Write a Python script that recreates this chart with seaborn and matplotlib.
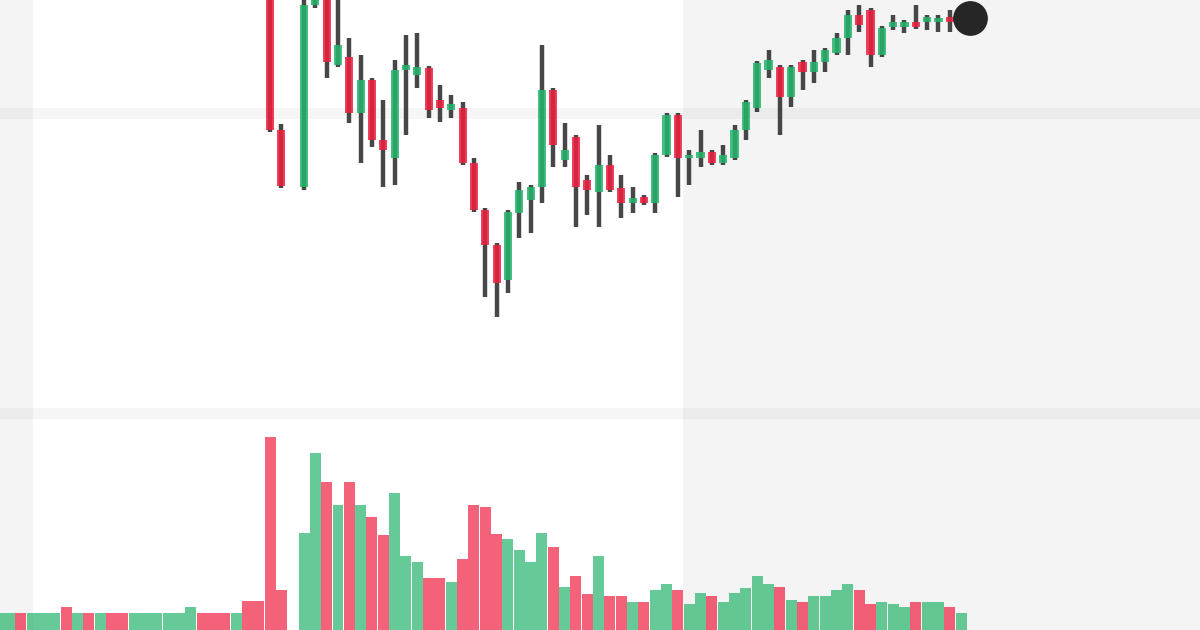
import matplotlib
matplotlib.use("Agg")
import matplotlib.pyplot as plt
import numpy as np
import pandas as pd
import seaborn as sns

# ---- data (bar index, one slot is missing: no trading in slot 26) ----
day = list(range(0, 26)) + list(range(27, 86))

open_ = [455, 460, 463, 458, 462, 466, 468, 461, 465, 462, 464, 460, 457, 460, 462, 465, 467, 468, 472, 468, 465, 462, 464, 455,
         445, 280,
         223, 405, 425, 345, 353, 297, 330, 270, 252, 340, 335, 342, 310, 300, 302, 247, 200, 165, 130, 197, 210, 223, 320, 250, 273, 230,
         218, 245, 222, 207, 213, 207, 255, 295, 252, 252, 258, 247, 252, 280, 302, 340, 343, 313, 348, 338, 348, 357, 372, 395, 400, 355,
         383, 383, 388, 388, 388, 393, 388]
high = [463, 466, 466, 465, 469, 471, 471, 468, 468, 467, 467, 463, 463, 465, 468, 470, 471, 475, 475, 471, 468, 467, 467, 458,
        448, 286,
        415, 435, 430, 420, 372, 355, 332, 310, 350, 375, 377, 344, 325, 315, 308, 252, 202, 167, 200, 228, 225, 365, 322, 287, 275, 235,
        285, 255, 235, 223, 215, 257, 297, 297, 260, 280, 260, 265, 285, 310, 349, 360, 345, 345, 350, 360, 362, 377, 400, 405, 402, 384,
        395, 390, 405, 395, 395, 400, 395]
low = [452, 457, 455, 455, 459, 463, 458, 458, 459, 459, 457, 454, 454, 457, 459, 462, 464, 465, 465, 462, 459, 459, 452, 442,
       278, 222,
       220, 402, 332, 343, 287, 247, 263, 223, 225, 275, 322, 292, 288, 292, 245, 198, 113, 93, 117, 172, 177, 207, 243, 243, 183, 195,
       183, 218, 192, 197, 205, 197, 253, 213, 225, 243, 245, 245, 250, 270, 298, 332, 275, 303, 320, 327, 338, 355, 355, 378, 343, 353,
       380, 377, 381, 380, 378, 378, 385]
close = [460, 463, 458, 462, 466, 468, 461, 465, 462, 464, 460, 457, 460, 462, 465, 467, 468, 472, 468, 465, 462, 464, 455, 445,
         280, 224,
         405, 425, 348, 365, 297, 330, 270, 260, 340, 345, 343, 300, 302, 306, 247, 200, 165, 127, 198, 220, 223, 320, 265, 260, 223, 220,
         245, 220, 207, 212, 207, 255, 295, 252, 255, 258, 247, 255, 280, 308, 347, 350, 313, 343, 338, 348, 360, 372, 395, 385, 355, 382,
         388, 388, 383, 393, 392, 388, 392]
volume = [17, 17, 17, 17, 17, 17, 23, 17, 17, 17, 17, 17, 17, 17, 17, 17, 17, 23, 17, 17, 17, 17, 29, 29,
          193, 40,
          97, 177, 148, 125, 148, 125, 113, 95, 137, 74, 68, 52, 52, 48, 71, 125, 123, 96, 91, 80, 68, 97, 83, 43, 54, 36,
          74, 34, 34, 28, 28, 40, 46, 40, 26, 37, 34, 28, 37, 42, 54, 46, 43, 30, 28, 34, 34, 40, 46, 40, 26, 28,
          26, 23, 28, 28, 28, 23, 17]

GREEN = "#25b46c"
RED = "#ef1f40"
WICK = "#333333"
SHADE = "#f4f4f4"

df = pd.DataFrame({"day": day, "open": open_, "high": high, "low": low,
                   "close": close, "volume": volume})
df["dir"] = np.where(df["close"] >= df["open"], "up", "down")

sns.set_theme(style="white")
fig = plt.figure(figsize=(12, 6.3), dpi=100)
fig.patch.set_facecolor("white")
ax = fig.add_axes([0, 1 / 3, 1, 2 / 3])
axv = fig.add_axes([0, 0, 1, 1 / 3])

xmin, xmax = 1.9 / 11.33, 1201.9 / 11.33
session_start, session_end = 3.08, 60.45

for a in (ax, axv):
    a.set_xlim(xmin, xmax)
    a.axvspan(xmin, session_start, color=SHADE, zorder=0, lw=0)
    a.axvspan(session_end, xmax, color=SHADE, zorder=0, lw=0)
    a.axis("off")

ax.set_ylim(-10, 410)
axv.set_ylim(0, 210)

# horizontal grid bands
ax.axhline(297.5, color="black", alpha=0.035, lw=8, zorder=1)
ax.axhline(-3, color="black", alpha=0.035, lw=8, zorder=1)

# candles
colors = np.where(df["dir"] == "up", GREEN, RED)
ax.vlines(df["day"], df["low"], df["high"], color=WICK, lw=3.2, zorder=2,
          alpha=0.9)
body_lo = np.minimum(df["open"], df["close"])
body_h = np.maximum(np.abs(df["close"] - df["open"]), 3)
ax.bar(df["day"], body_h, bottom=body_lo, width=0.72, color=colors,
       alpha=0.85, zorder=3, linewidth=0)

# last price marker
ax.plot(df["day"].iloc[-1] + 0.8, df["close"].iloc[-1], "o", ms=24,
        color="#262626", zorder=5, clip_on=False)

# volume
sns.barplot(data=df, x="day", y="volume", hue="dir",
            palette={"up": GREEN, "down": RED}, native_scale=True,
            dodge=False, width=0.97, alpha=0.7, errorbar=None,
            legend=False, linewidth=0, saturation=1, ax=axv, zorder=2)
axv.set_xlim(xmin, xmax)
axv.axis("off")

fig.savefig("out.png", dpi=100, facecolor="white")
